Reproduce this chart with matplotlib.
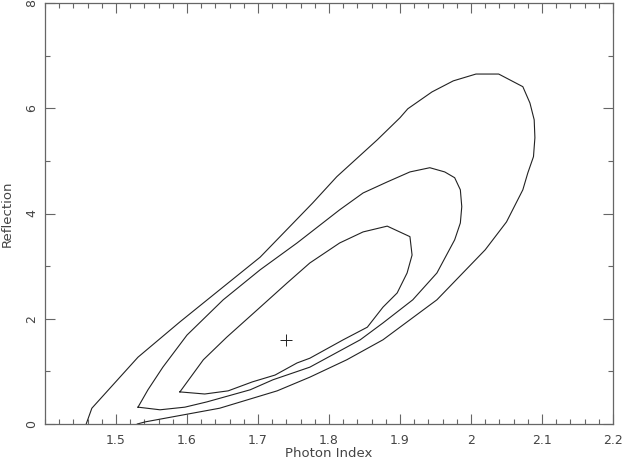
import matplotlib

matplotlib.use("Agg")
import matplotlib.pyplot as plt
from matplotlib.ticker import MultipleLocator

# contour levels (photon index, reflection)
outer_gamma = [1.458, 1.466, 1.531, 1.590, 1.646, 1.703, 1.777, 1.811, 1.868,
               1.900, 1.911, 1.945, 1.975, 2.007, 2.039, 2.073, 2.083, 2.089,
               2.090, 2.088, 2.080, 2.073, 2.050, 2.020, 1.952, 1.876, 1.825,
               1.773, 1.727, 1.646, 1.541, 1.530]
outer_refl = [0.00, 0.30, 1.27, 1.94, 2.55, 3.17, 4.20, 4.70, 5.40,
              5.82, 5.99, 6.31, 6.52, 6.65, 6.65, 6.41, 6.10, 5.78,
              5.44, 5.08, 4.77, 4.45, 3.84, 3.31, 2.36, 1.60, 1.22,
              0.89, 0.63, 0.30, 0.04, 0.00]

middle_gamma = [1.531, 1.545, 1.566, 1.600, 1.651, 1.703, 1.755, 1.815, 1.848,
                1.882, 1.914, 1.942, 1.963, 1.977, 1.985, 1.987, 1.985, 1.977,
                1.952, 1.918, 1.876, 1.844, 1.773, 1.721, 1.689, 1.628, 1.597,
                1.562, 1.531]
middle_refl = [0.32, 0.65, 1.08, 1.69, 2.36, 2.93, 3.44, 4.07, 4.39,
               4.60, 4.79, 4.87, 4.79, 4.68, 4.45, 4.13, 3.82, 3.50,
               2.87, 2.36, 1.92, 1.60, 1.08, 0.84, 0.65, 0.42, 0.32,
               0.27, 0.32]

inner_gamma = [1.590, 1.623, 1.656, 1.699, 1.741, 1.773, 1.815, 1.848, 1.882,
               1.914, 1.917, 1.910, 1.896, 1.876, 1.854, 1.820, 1.773, 1.755,
               1.724, 1.692, 1.658, 1.625, 1.590]
inner_refl = [0.61, 1.22, 1.65, 2.17, 2.68, 3.06, 3.44, 3.65, 3.76,
              3.56, 3.21, 2.87, 2.49, 2.22, 1.84, 1.60, 1.25, 1.16,
              0.93, 0.80, 0.63, 0.57, 0.61]

best_gamma = [1.739]
best_refl = [1.60]

LINE = "#222222"
FRAME = "#666666"
TEXT = "#444444"

fig = plt.figure(figsize=(6.23, 4.59), dpi=100)
ax = fig.add_axes([45 / 623, 35 / 459, 568 / 623, 421 / 459])

for gx, ry in [(outer_gamma, outer_refl), (middle_gamma, middle_refl),
               (inner_gamma, inner_refl)]:
    ax.plot(gx, ry, color=LINE, linewidth=0.8)

ax.plot(best_gamma, best_refl, marker="+", markersize=8, markeredgewidth=0.7,
        color=LINE, linestyle="none")

ax.set_xlim(1.4, 2.2)
ax.set_ylim(0, 8)
ax.xaxis.set_major_locator(MultipleLocator(0.1))
ax.xaxis.set_minor_locator(MultipleLocator(0.02))
ax.yaxis.set_major_locator(MultipleLocator(2))
ax.yaxis.set_minor_locator(MultipleLocator(1))

ax.set_xticks([1.5, 1.6, 1.7, 1.8, 1.9, 2.0, 2.1, 2.2])
ax.set_xticklabels(["1.5", "1.6", "1.7", "1.8", "1.9", "2", "2.1", "2.2"])
ax.set_yticks([0, 2, 4, 6, 8])
ax.set_yticklabels(["0", "2", "4", "6", "8"], rotation=90, va="center")

ax.tick_params(which="both", direction="in", top=True, right=True,
               colors=FRAME, labelcolor=TEXT, labelsize=9, width=0.8)
ax.tick_params(which="major", length=7)
ax.tick_params(axis="x", which="major", pad=7)
ax.tick_params(axis="y", which="major", pad=5)
ax.tick_params(which="minor", length=3.5)
for spine in ax.spines.values():
    spine.set_color(FRAME)
    spine.set_linewidth(0.9)

ax.set_xlabel("Photon Index", color=TEXT, fontsize=9.5)
ax.xaxis.set_label_coords(0.5, -0.054)
ax.set_ylabel("Reflection", color=TEXT, fontsize=9.5)
ax.yaxis.set_label_coords(-0.055, 0.5)

fig.savefig("out.png", dpi=100)
